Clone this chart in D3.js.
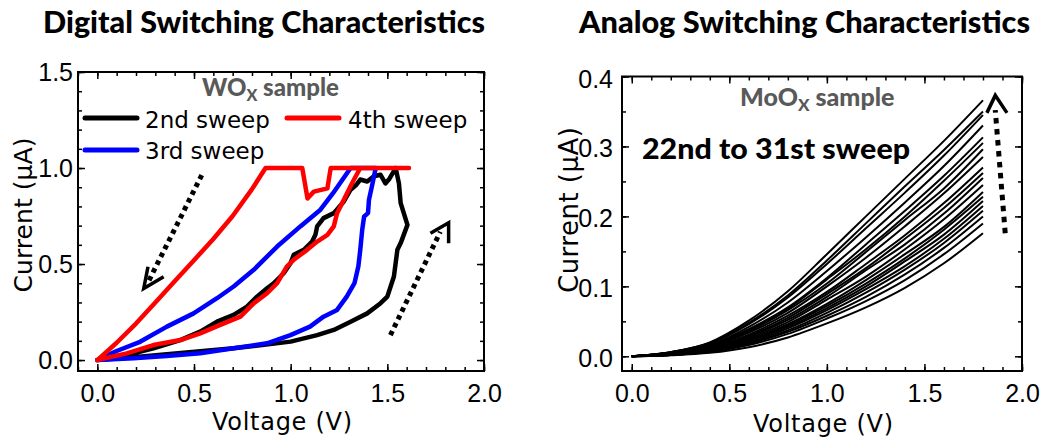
<!DOCTYPE html>
<html><head><meta charset="utf-8">
<script src="https://cdn.jsdelivr.net/npm/d3@7"></script>
<style>body{margin:0;background:#fff}svg{display:block}</style>
</head><body>
<script>
// ---------------- DATA ----------------
// Digital (WOx) sweeps: full loop, forward then return
const sweep2V = [0,0.187,0.36,0.705,1.0,1.137,1.223,1.31,1.396,1.465,1.5,1.517,1.534,1.552,1.569,1.604,1.569,1.56,1.543,1.508,1.49,1.465,1.43,1.396,1.36,1.34,1.31,1.275,1.223,1.17,1.137,1.128,1.111,1.068,1.016,0.999,0.964,0.912,0.878,0.826,0.774,0.705,0.619,0.532,0.429,0.29,0.152,0];
const sweep2I = [0,0.015,0.03,0.061,0.096,0.13,0.157,0.2,0.243,0.296,0.33,0.383,0.435,0.574,0.609,0.704,0.817,0.92,1.0,0.94,0.92,0.965,0.957,0.93,0.94,0.913,0.887,0.826,0.765,0.739,0.696,0.652,0.617,0.574,0.548,0.504,0.452,0.4,0.374,0.33,0.278,0.235,0.2,0.148,0.104,0.061,0.026,0];
const sweep3V = [0,0.187,0.359,0.532,0.705,0.878,0.999,1.1,1.17,1.24,1.29,1.33,1.35,1.36,1.37,1.38,1.40,1.405,1.42,1.44,1.31,1.22,1.154,1.05,0.93,0.809,0.705,0.619,0.498,0.36,0.221,0.1,0];
const sweep3I = [0,0.009,0.021,0.035,0.061,0.087,0.13,0.174,0.226,0.261,0.33,0.4,0.487,0.574,0.678,0.748,0.765,0.835,0.904,1.0,1.0,0.87,0.783,0.696,0.591,0.47,0.383,0.322,0.243,0.174,0.095,0.047,0];
const sweep4V = [0,0.152,0.29,0.43,0.532,0.636,0.74,0.81,0.878,0.93,0.98,1.016,1.085,1.137,1.19,1.223,1.24,1.275,1.318,1.36,1.612,1.207,1.19,1.12,1.087,1.06,0.87,0.8,0.7,0.6,0.5,0.4,0.3,0.2,0.1,0];
const sweep4I = [0,0.035,0.078,0.104,0.139,0.183,0.226,0.296,0.348,0.4,0.487,0.522,0.574,0.617,0.652,0.696,0.765,0.835,0.922,1.0,1.0,1.0,0.894,0.877,0.842,1.0,1.0,0.89,0.75,0.63,0.52,0.41,0.3,0.19,0.09,0];
const sweepNames = ["2nd sweep","3rd sweep","4th sweep"];

// Analog (MoOx) sweeps 22..31 (forward + return traces)
const analogV = [0,0.2,0.4,0.6,0.8,1.0,1.2,1.4,1.6,1.8];
const analogI = [
  [0,0.006,0.020,0.051,0.093,0.146,0.200,0.254,0.308,0.366],
  [0,0.006,0.019,0.048,0.087,0.137,0.190,0.243,0.295,0.350],
  [0,0.006,0.018,0.046,0.084,0.132,0.183,0.234,0.287,0.345],
  [0,0.005,0.016,0.042,0.077,0.122,0.170,0.220,0.272,0.330],
  [0,0.005,0.015,0.039,0.070,0.112,0.160,0.208,0.258,0.313],
  [0,0.005,0.015,0.038,0.068,0.110,0.153,0.200,0.251,0.305],
  [0,0.004,0.014,0.036,0.066,0.104,0.149,0.195,0.240,0.296],
  [0,0.004,0.013,0.034,0.062,0.100,0.141,0.186,0.233,0.285],
  [0,0.004,0.012,0.031,0.058,0.092,0.132,0.173,0.219,0.270],
  [0,0.004,0.011,0.029,0.055,0.089,0.126,0.168,0.212,0.262],
  [0,0.003,0.011,0.028,0.052,0.085,0.123,0.160,0.204,0.255],
  [0,0.003,0.010,0.026,0.049,0.081,0.114,0.153,0.196,0.245],
  [0,0.003,0.009,0.024,0.046,0.075,0.109,0.146,0.185,0.235],
  [0,0.003,0.009,0.023,0.044,0.072,0.104,0.140,0.181,0.228],
  [0,0.003,0.008,0.022,0.042,0.069,0.100,0.136,0.174,0.222],
  [0,0.002,0.008,0.020,0.040,0.066,0.096,0.129,0.168,0.215],
  [0,0.002,0.007,0.019,0.037,0.062,0.091,0.124,0.162,0.208],
  [0,0.002,0.007,0.018,0.035,0.058,0.085,0.117,0.155,0.200],
  [0,0.002,0.006,0.016,0.032,0.054,0.079,0.109,0.146,0.190],
  [0,0.0015,0.005,0.013,0.027,0.047,0.070,0.098,0.133,0.176]
];

// Tick labels
const digXTicks = [0,0.5,1.0,1.5,2.0];
const digYTicks = [0,0.5,1.0,1.5];
const anaXTicks = [0,0.5,1.0,1.5,2.0];
const anaYTicks = [0,0.1,0.2,0.3,0.4];

// ---------------- DRAW ----------------
const svg = d3.select("body").append("svg").attr("width",1046).attr("height",437);
const TICKF = "'Liberation Sans', Arial, sans-serif";
const GOTH = "'DejaVu Sans', sans-serif";
const TITLEF = "Lato, 'Open Sans', sans-serif";

function axes(x, y, o) {
  const [x0,x1] = x.range(), [y0,y1] = y.range();
  const g = svg.append("g");
  const style = s => { s.select(".domain").remove(); s.selectAll("line").attr("stroke","#000").attr("stroke-width",1.5); };
  g.append("g").attr("transform",`translate(0,${y0})`).call(d3.axisBottom(x).tickValues(o.xMin).tickSize(-4).tickFormat("")).call(style);
  g.append("g").attr("transform",`translate(0,${y1})`).call(d3.axisTop(x).tickValues(o.xMin).tickSize(-4).tickFormat("")).call(style);
  g.append("g").attr("transform",`translate(${x0},0)`).call(d3.axisLeft(y).tickValues(o.yMin).tickSize(-4).tickFormat("")).call(style);
  g.append("g").attr("transform",`translate(${x1},0)`).call(d3.axisRight(y).tickValues(o.yMin).tickSize(-4).tickFormat("")).call(style);
  const bx = g.append("g").attr("transform",`translate(0,${y0})`).call(d3.axisBottom(x).tickValues(o.xMaj).tickSize(-7).tickFormat(d3.format(".1f"))).call(style);
  bx.selectAll("text").attr("y",31).attr("dy",null).attr("fill","#000").style("font-family",TICKF).style("font-size",o.fs+"px");
  g.append("g").attr("transform",`translate(0,${y1})`).call(d3.axisTop(x).tickValues(o.xMaj).tickSize(-7).tickFormat("")).call(style);
  const ly = g.append("g").attr("transform",`translate(${x0},0)`).call(d3.axisLeft(y).tickValues(o.yMaj).tickSize(-7).tickPadding(o.pad).tickFormat(d3.format(".1f"))).call(style);
  ly.selectAll("text").attr("x",-o.pad).attr("dy",o.dy).attr("fill","#000").style("font-family",TICKF).style("font-size",o.fs+"px");
  g.append("g").attr("transform",`translate(${x1},0)`).call(d3.axisRight(y).tickValues(o.yMaj).tickSize(-7).tickFormat("")).call(style);
  g.append("rect").attr("x",x0).attr("y",y1).attr("width",x1-x0).attr("height",y0-y1)
    .attr("fill","none").attr("stroke","#000").attr("stroke-width",2);
}

function dotted(x, y, line, head, dash) {
  const pts = line.map(p=>[x(p[0]),y(p[1])]);
  svg.append("path").attr("d",d3.line()(pts)).attr("fill","none").attr("stroke","#000")
    .attr("stroke-width",5).attr("stroke-dasharray",dash);
  svg.append("path").attr("d",d3.line()(head.map(p=>[x(p[0]),y(p[1])]))).attr("fill","none")
    .attr("stroke","#000").attr("stroke-width",3.5).attr("stroke-linejoin","miter");
}

// ---- Left: digital ----
const xL = d3.scaleLinear().domain([-0.1,2.0]).range([78,484]);
const yL = d3.scaleLinear().domain([-0.057,1.5]).range([371,72]);

svg.append("text").attr("x",43).attr("y",33).attr("textLength",442).attr("lengthAdjust","spacingAndGlyphs")
  .style("font-family",TITLEF).style("font-weight","900").style("font-size","30px").text("Digital Switching Characteristics");

axes(xL, yL, {xMaj:digXTicks, yMaj:digYTicks, xMin:d3.range(-1,21).map(d=>d/10), yMin:d3.range(0,16).map(d=>d/10), fs:25, pad:5, dy:"0.33em"});

const lineL = d3.line().x(d=>xL(d[0])).y(d=>yL(d[1]));
const sweeps = [
  {V:sweep2V, I:sweep2I, c:"#000000"},
  {V:sweep3V, I:sweep3I, c:"#0000ff"},
  {V:sweep4V, I:sweep4I, c:"#ff0000"}
];
sweeps.forEach(s=>{
  svg.append("path").attr("d",lineL(s.V.map((v,i)=>[v,s.I[i]]))).attr("fill","none")
    .attr("stroke",s.c).attr("stroke-width",4.5).attr("stroke-linejoin","round").attr("stroke-linecap","round");
});

// legend
const leg = [
  {n:sweepNames[0], c:"#000000", lx:85, ty:128, tx:145, ly:118},
  {n:sweepNames[2], c:"#ff0000", lx:287, ty:128, tx:348, ly:118},
  {n:sweepNames[1], c:"#0000ff", lx:85, ty:159, tx:145, ly:150}
];
leg.forEach(l=>{
  svg.append("line").attr("x1",l.lx).attr("x2",l.lx+52).attr("y1",l.ly).attr("y2",l.ly)
    .attr("stroke",l.c).attr("stroke-width",5).attr("stroke-linecap","round");
  svg.append("text").attr("x",l.tx).attr("y",l.ty).style("font-family",GOTH).style("font-size","23px").text(l.n);
});
const wo = svg.append("text").attr("x",202).attr("y",96).attr("fill","#595959")
  .style("font-family",TITLEF).style("font-weight","900").style("font-size","24px");
wo.append("tspan").text("WO");
wo.append("tspan").attr("dy",5).style("font-size","16px").text("X");
wo.append("tspan").attr("dy",-5).text(" sample");

dotted(xL, yL, [[0.54,0.963],[0.26,0.40]], [[0.262,0.486],[0.24,0.373],[0.343,0.434]], "4.5,4.2");
dotted(xL, yL, [[1.516,0.13],[1.774,0.668]], [[1.723,0.66],[1.817,0.715],[1.817,0.608]], "4.5,4.2");

svg.append("text").attr("x",282).attr("y",430).attr("text-anchor","middle").attr("textLength",140)
  .style("font-family",GOTH).style("font-size","24px").text("Voltage (V)");
svg.append("text").attr("transform","translate(32,215) rotate(-90)").attr("text-anchor","middle").attr("textLength",155)
  .style("font-family",GOTH).style("font-size","25px").text("Current (μA)");

// ---- Right: analog ----
const xR = d3.scaleLinear().domain([-0.05,2.0]).range([622,1022]);
const yR = d3.scaleLinear().domain([-0.021,0.4]).range([371,76.5]);

svg.append("text").attr("x",579).attr("y",33).attr("textLength",451).attr("lengthAdjust","spacingAndGlyphs")
  .style("font-family",TITLEF).style("font-weight","900").style("font-size","30px").text("Analog Switching Characteristics");

axes(xR, yR, {xMaj:anaXTicks, yMaj:anaYTicks, xMin:d3.range(0,21).map(d=>d/10), yMin:d3.range(0,9).map(d=>d/20), fs:25, pad:9, dy:"0.42em"});

const lineR = d3.line().x(d=>xR(d[0])).y(d=>yR(d[1])).curve(d3.curveMonotoneX);
analogI.forEach(arr=>{
  svg.append("path").attr("d",lineR(analogV.map((v,i)=>[v,arr[i]]))).attr("fill","none")
    .attr("stroke","#000").attr("stroke-width",2);
});

const mo = svg.append("text").attr("x",740).attr("y",106).attr("fill","#595959")
  .style("font-family",TITLEF).style("font-weight","900").style("font-size","25px");
mo.append("tspan").text("MoO");
mo.append("tspan").attr("dy",5).style("font-size","17px").text("X");
mo.append("tspan").attr("dy",-5).text(" sample");

svg.append("text").attr("x",642).attr("y",159).attr("textLength",268).attr("lengthAdjust","spacingAndGlyphs")
  .style("font-family",TITLEF).style("font-weight","900").style("font-size","29px").text("22nd to 31st sweep");

dotted(xR, yR, [[1.914,0.176],[1.863,0.352]], [[1.82,0.348],[1.863,0.373],[1.923,0.348]], "5.5,5.5");

svg.append("text").attr("x",823).attr("y",432).attr("text-anchor","middle").attr("textLength",140)
  .style("font-family",GOTH).style("font-size","24px").text("Voltage (V)");
svg.append("text").attr("transform","translate(578,210) rotate(-90)").attr("text-anchor","middle").attr("textLength",166)
  .style("font-family",GOTH).style("font-size","26px").text("Current (μA)");
</script>
</body></html>
